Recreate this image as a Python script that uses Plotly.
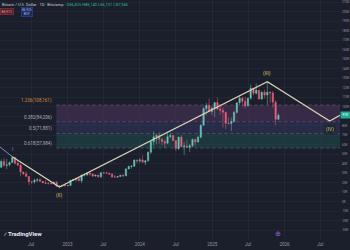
import plotly.graph_objects as go
import pandas as pd

# ---- data (BTC/USD, two-week candles, thousands of USD) ----
period_start = "2022-01-24"
opens = [36.3,42.4,38.3,38.8,41.3,46.4,40.4,38.5,31.3,29.4,26.6,21.0,20.8,22.6,23.2,21.5,19.8,19.4,19.3,19.1,20.6,16.3,16.5,17.1,16.8,
         17.1,22.7,23.3,24.3,22.0,28.0,28.2,30.3,29.2,27.0,28.0,26.3,30.5,30.3,30.0,29.0,26.1,25.9,26.5,27.9,27.2,34.5,37.0,37.4,43.8,43.0,
         44.0,41.6,43.0,52.1,63.1,68.4,69.6,65.7,63.4,61.5,68.5,69.6,64.3,55.9,68.0,58.1,58.7,57.3,59.0,65.6,62.9,67.9,80.4,97.9,101.2,95.0,
         98.3,104.3,97.7,96.1,94.2,82.6,82.4,84.5,94.0,104.1,109.0,105.7,100.9,108.9,119.3,114.2,117.4,108.2,115.3,112.2,115.2,114.5,104.7,86.8]
highs = [44.5,45.8,45.0,42.3,48.2,47.2,42.9,40.0,31.4,31.9,26.8,21.5,24.3,24.6,25.2,21.8,22.8,20.4,20.5,21.0,21.5,17.2,17.4,18.4,17.4,
         22.7,24.0,25.3,25.0,28.4,29.2,31.0,30.5,29.8,28.3,28.4,31.4,31.5,31.8,30.0,30.2,28.1,26.9,28.0,28.6,35.2,37.9,38.4,44.5,44.3,45.9,
         49.0,43.9,52.8,63.9,73.8,71.7,72.7,67.2,65.5,71.9,71.9,70.2,64.5,68.4,70.0,62.7,65.0,60.6,66.5,65.6,69.5,81.8,99.6,104.0,108.4,99.9,
         102.7,109.6,102.5,99.5,94.4,88.8,88.5,95.6,104.3,112.0,110.4,110.6,109.6,123.2,120.0,124.5,117.5,116.0,117.9,126.2,116.0,116.4,107.0,93.0]
lows = [35.5,36.8,34.3,37.2,40.9,39.2,37.7,26.7,28.0,26.5,17.6,18.8,19.0,20.7,23.0,19.5,18.6,18.1,18.2,18.6,15.6,15.5,16.0,16.3,16.4,
        17.1,22.3,21.4,21.9,19.6,26.5,27.3,27.1,26.0,26.1,25.4,24.8,29.5,29.6,28.6,25.2,25.4,24.9,26.0,26.5,27.1,34.1,34.8,36.8,40.2,40.8,
        41.5,38.5,42.5,50.6,59.0,60.8,61.0,59.6,56.5,60.6,66.6,64.0,53.5,54.3,62.0,49.1,57.8,52.5,57.5,58.9,62.4,66.8,80.2,90.8,94.2,91.5,
        89.3,96.4,91.2,78.2,76.6,81.2,74.5,83.0,92.9,101.5,100.4,98.2,100.4,107.5,112.0,112.7,107.3,107.3,108.6,102.0,103.5,98.9,80.6,86.1]
closes = [42.4,38.3,38.8,41.3,46.4,40.4,38.5,31.3,29.4,26.6,21.0,20.8,22.6,23.2,21.5,19.8,19.4,19.3,19.1,20.6,16.3,16.5,17.1,16.8,17.1,
          22.7,23.3,24.3,22.0,28.0,28.2,30.3,29.2,27.0,28.0,26.3,30.5,30.3,30.0,29.0,26.1,25.9,26.5,27.9,27.2,34.5,37.0,37.4,43.8,43.0,44.0,
          41.6,43.0,52.1,63.1,68.4,69.6,65.7,63.4,61.5,68.5,69.6,64.3,55.9,68.0,58.1,58.7,57.3,59.0,65.6,62.9,67.9,80.4,97.9,101.2,95.0,98.3,
          104.3,97.7,96.1,94.2,82.6,82.4,84.5,94.0,104.1,109.0,105.7,100.9,108.9,119.3,114.2,117.4,108.2,115.3,112.2,115.2,114.5,104.7,86.8,91.0]

# Elliott wave pivots
wave_dates = ["2022-01-25", "2022-03-28", "2022-11-21", "2025-10-06", "2026-08-17", "2026-10-08"]
wave_prices = [57.6, 47.4, 15.5, 126.2, 85.0, 91.0]
wave_labels = ["", "I", "(II)", "(III)", "(IV)", ""]

# Fibonacci levels
fib_start = "2022-11-06"
fib_end = "2026-10-08"
fib_prices = [101.8, 84.2, 71.9, 56.5]
fib_labels = ["1.236(108,161)", "0.382(84,206)", "0.5(71,881)", "0.618(57,984)"]
fib_label_colors = ["#d08a3a", "#a9abb8", "#a9abb8", "#a9abb8"]
fib_band_colors = ["rgba(156,82,170,0.22)", "rgba(92,96,190,0.20)", "rgba(38,140,130,0.22)"]

# axes
x_tick_dates = ["2022-07-01", "2023-01-01", "2023-07-01", "2024-01-01", "2024-07-01",
                "2025-01-01", "2025-07-01", "2026-01-01", "2026-07-01"]
x_tick_text = ["Jul", "2023", "Jul", "2024", "Jul", "2025", "Jul", "2026", "Jul"]
y_tick_vals = list(range(-30000, 220000, 10000))
event_date = "2025-11-28"
last_price = 91.0

K = 1000.0
dates = pd.date_range(period_start, periods=len(opens), freq="14D") + pd.Timedelta(days=7)

BG = "#1b1f2b"
fig = go.Figure()

fig.add_trace(go.Candlestick(
    x=dates,
    open=[v * K for v in opens], high=[v * K for v in highs],
    low=[v * K for v in lows], close=[v * K for v in closes],
    increasing=dict(line=dict(color="#6cc3b4", width=0.5), fillcolor="#6cc3b4"),
    decreasing=dict(line=dict(color="#e8607a", width=0.5), fillcolor="#e8607a"),
    whiskerwidth=0, showlegend=False, hoverinfo="skip"))

# pre-wave segment and main wave line
fig.add_trace(go.Scatter(x=wave_dates[:2], y=[v * K for v in wave_prices[:2]], mode="lines",
                         line=dict(color="#8c86c8", width=1), showlegend=False, hoverinfo="skip"))
fig.add_trace(go.Scatter(x=wave_dates[1:], y=[v * K for v in wave_prices[1:]], mode="lines",
                         line=dict(color="#d8d3b0", width=1.2), showlegend=False, hoverinfo="skip"))

# Fib bands + lines + labels
for i in range(3):
    fig.add_shape(type="rect", xref="x", yref="y", x0=fib_start, x1=fib_end,
                  y0=fib_prices[i + 1] * K, y1=fib_prices[i] * K,
                  fillcolor=fib_band_colors[i], line=dict(width=0), layer="below")
for i, p in enumerate(fib_prices):
    fig.add_shape(type="line", xref="x", yref="y", x0=fib_start, x1=fib_end,
                  y0=p * K, y1=p * K, line=dict(color="rgba(190,180,220,0.45)", width=0.6, dash="dot"))
    fig.add_annotation(x=fib_start, y=p * K, xref="x", yref="y", text=fib_labels[i],
                       showarrow=False, xanchor="right", yanchor="bottom", xshift=-2, yshift=-1,
                       font=dict(size=4.5, color=fib_label_colors[i], family="Roboto"))

# wave labels
for d, p, t in zip(wave_dates, wave_prices, wave_labels):
    if not t:
        continue
    below = t in ("(II)", "(IV)")
    fig.add_annotation(x=d, y=p * K, text=t, showarrow=False,
                       yanchor="top" if below else "bottom", yshift=-3 if below else 3,
                       font=dict(size=5, color="#8c86e8" if t == "I" else "#d6c36a", family="Roboto"),
                       bgcolor="rgba(27,31,43,0.6)")

# last price tag (axis label under it is hidden, as in TradingView)
fig.add_annotation(x=1, xref="paper", y=last_price * K, yref="y", text="91K", showarrow=False,
                   xanchor="left", xshift=0, font=dict(size=3.4, color="white", family="Roboto"),
                   bgcolor="#22ab94", borderpad=1.2)

# header
fig.add_annotation(x=0, y=1, xref="paper", yref="paper", xanchor="left", yanchor="top", showarrow=False,
                   text="Bitcoin / U.S. Dollar · 1D · Bitstamp · <span style='color:#2fb58f'>O86,825 H88,140 L86,101 C87,946</span>",
                   font=dict(size=4, color="#c8cad3", family="Roboto"))
fig.add_annotation(x=0, y=0.965, xref="paper", yref="paper", xanchor="left", yanchor="top", showarrow=False,
                   text="86,912", font=dict(size=3.5, color="#f7a1a8", family="Roboto"),
                   bgcolor="#4a1f28", bordercolor="#b0333f", borderwidth=0.5, borderpad=1)
fig.add_annotation(x=0.063, y=0.97, xref="paper", yref="paper", xanchor="left", yanchor="top", showarrow=False,
                   text="86,925<br>BUY", font=dict(size=3.2, color="#9fb8ff", family="Roboto"),
                   bgcolor="#1e2a55", bordercolor="#2b4dbb", borderwidth=0.5, borderpad=0.5)

# TradingView logo
fig.add_annotation(x=0.005, y=0.005, xref="paper", yref="paper", xanchor="left", yanchor="bottom", showarrow=False,
                   text="<b>⁄ TradingView</b>", font=dict(size=6, color="#e8e9ee", family="Roboto"))
# event marker
fig.add_annotation(x=event_date, y=0.0, xref="x", yref="paper", yanchor="bottom", showarrow=False,
                   text="⊕", font=dict(size=7, color="#9a5fd0"))

y_tick_text = ["" if abs(v - last_price * K) < 5000 else f"{v // 1000}K" for v in y_tick_vals]

fig.update_layout(
    width=350, height=250, margin=dict(l=0, r=10, t=0, b=10),
    paper_bgcolor=BG, plot_bgcolor=BG,
    xaxis=dict(type="date", range=["2022-01-25", fib_end], rangeslider=dict(visible=False),
               tickvals=x_tick_dates, ticktext=x_tick_text, showgrid=True, gridcolor="rgba(54,58,70,0.35)",
               gridwidth=0.5, zeroline=False, showline=False, ticks="", automargin=False,
               tickfont=dict(size=4.5, color="#9598a1", family="Roboto")),
    yaxis=dict(side="right", range=[-40300, 212300], tickvals=y_tick_vals, ticktext=y_tick_text,
               showgrid=True, gridcolor="rgba(54,58,70,0.25)", gridwidth=0.5, zeroline=False, ticks="",
               automargin=False, ticklabelstandoff=1,
               tickfont=dict(size=3.1, color="#9598a1", family="Roboto")),
    font=dict(family="Roboto"),
)

fig.write_html("out.html")
